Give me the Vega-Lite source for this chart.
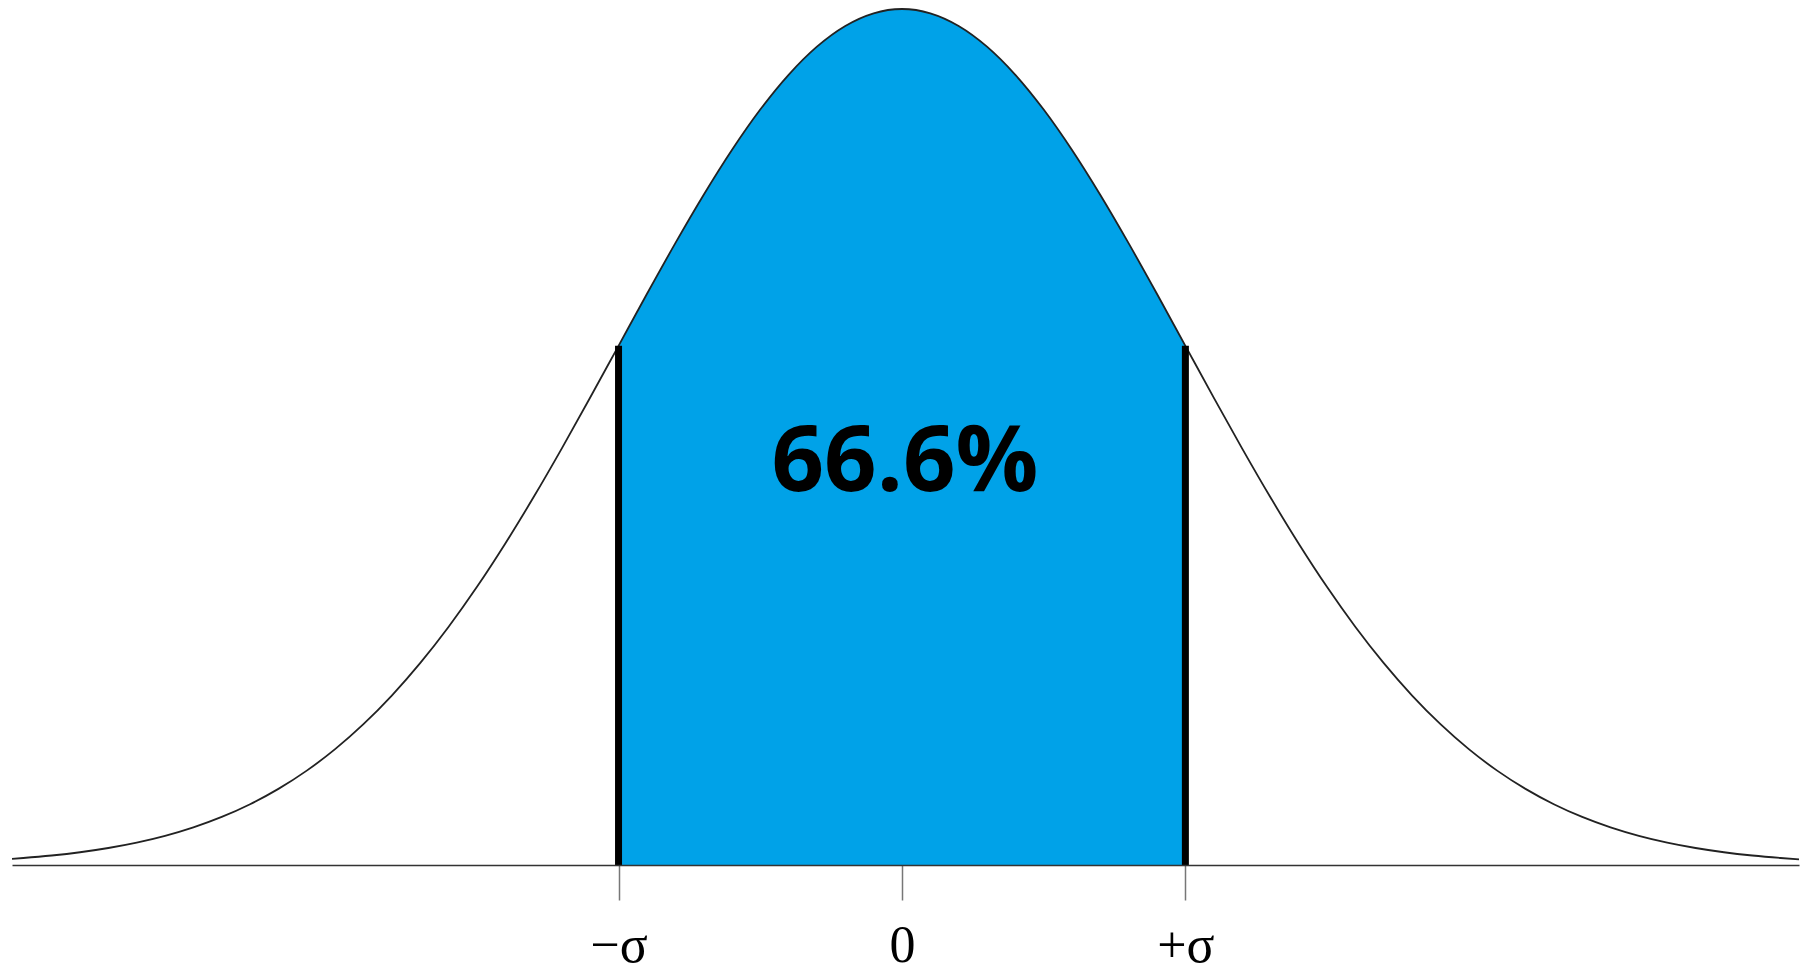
{
  "$schema": "https://vega.github.io/schema/vega-lite/v6.json",
  "width": 1787,
  "height": 856,
  "autosize": {"type": "none"},
  "padding": {"left": 12, "top": 9, "right": 8, "bottom": 101},
  "background": "white",
  "config": {"view": {"stroke": null}},
  "datasets": {
    "curve": [
      {"x": -3.14, "y": 0.00288}, {"x": -3.1, "y": 0.00327}, {"x": -3.0, "y": 0.00443},
      {"x": -2.9, "y": 0.00595}, {"x": -2.8, "y": 0.00792}, {"x": -2.7, "y": 0.01042},
      {"x": -2.6, "y": 0.01358}, {"x": -2.5, "y": 0.01753}, {"x": -2.4, "y": 0.02239},
      {"x": -2.3, "y": 0.02833}, {"x": -2.2, "y": 0.03547}, {"x": -2.1, "y": 0.04398},
      {"x": -2.0, "y": 0.05399}, {"x": -1.9, "y": 0.06562}, {"x": -1.8, "y": 0.07895},
      {"x": -1.7, "y": 0.09405}, {"x": -1.6, "y": 0.11092}, {"x": -1.5, "y": 0.12952},
      {"x": -1.4, "y": 0.14973}, {"x": -1.3, "y": 0.17137}, {"x": -1.2, "y": 0.19419},
      {"x": -1.1, "y": 0.21785}, {"x": -1.0, "y": 0.24197}, {"x": -0.9, "y": 0.26609},
      {"x": -0.8, "y": 0.28969}, {"x": -0.7, "y": 0.31225}, {"x": -0.6, "y": 0.33322},
      {"x": -0.5, "y": 0.35207}, {"x": -0.4, "y": 0.36827}, {"x": -0.3, "y": 0.38139},
      {"x": -0.2, "y": 0.39104}, {"x": -0.1, "y": 0.39695}, {"x": 0.0, "y": 0.39894},
      {"x": 0.1, "y": 0.39695}, {"x": 0.2, "y": 0.39104}, {"x": 0.3, "y": 0.38139},
      {"x": 0.4, "y": 0.36827}, {"x": 0.5, "y": 0.35207}, {"x": 0.6, "y": 0.33322},
      {"x": 0.7, "y": 0.31225}, {"x": 0.8, "y": 0.28969}, {"x": 0.9, "y": 0.26609},
      {"x": 1.0, "y": 0.24197}, {"x": 1.1, "y": 0.21785}, {"x": 1.2, "y": 0.19419},
      {"x": 1.3, "y": 0.17137}, {"x": 1.4, "y": 0.14973}, {"x": 1.5, "y": 0.12952},
      {"x": 1.6, "y": 0.11092}, {"x": 1.7, "y": 0.09405}, {"x": 1.8, "y": 0.07895},
      {"x": 1.9, "y": 0.06562}, {"x": 2.0, "y": 0.05399}, {"x": 2.1, "y": 0.04398},
      {"x": 2.2, "y": 0.03547}, {"x": 2.3, "y": 0.02833}, {"x": 2.4, "y": 0.02239},
      {"x": 2.5, "y": 0.01753}, {"x": 2.6, "y": 0.01358}, {"x": 2.7, "y": 0.01042},
      {"x": 2.8, "y": 0.00792}, {"x": 2.9, "y": 0.00595}, {"x": 3.0, "y": 0.00443},
      {"x": 3.1, "y": 0.00327}, {"x": 3.165, "y": 0.00266}
    ],
    "bounds": [
      {"x": -1.0, "y": 0.24197},
      {"x": 1.0, "y": 0.24197}
    ],
    "labels": [
      {"x": 0.0, "y": 0.1743, "text": "66.6%"}
    ]
  },
  "layer": [
    {
      "data": {"name": "curve"},
      "transform": [{"filter": "datum.x >= -1 && datum.x <= 1"}],
      "mark": {"type": "area", "color": "#00A2E8", "interpolate": "monotone"},
      "encoding": {
        "x": {
          "field": "x", "type": "quantitative",
          "scale": {"domain": [-3.14, 3.165], "nice": false, "zero": false},
          "axis": {
            "values": [-1, 0, 1],
            "labelExpr": "datum.value < 0 ? '−σ' : (datum.value > 0 ? '+σ' : '0')",
            "title": null,
            "grid": false,
            "zindex": 1,
            "domainColor": "#333333",
            "domainWidth": 1.5,
            "tickColor": "#777777",
            "tickWidth": 1.5,
            "tickSize": 35,
            "labelFont": "Liberation Serif",
            "labelFontSize": 52,
            "labelColor": "#000000",
            "labelBaseline": "alphabetic",
            "labelPadding": 61,
            "labelFlush": false,
            "labelOverlap": false
          }
        },
        "y": {
          "field": "y", "type": "quantitative",
          "scale": {"domain": [0, 0.39894], "nice": false, "zero": true},
          "axis": null
        }
      }
    },
    {
      "data": {"name": "curve"},
      "mark": {"type": "line", "color": "#222222", "strokeWidth": 1.8, "interpolate": "monotone"},
      "encoding": {
        "x": {"field": "x", "type": "quantitative"},
        "y": {"field": "y", "type": "quantitative"}
      }
    },
    {
      "data": {"name": "bounds"},
      "mark": {"type": "rule", "color": "#000000", "strokeWidth": 7},
      "encoding": {
        "x": {"field": "x", "type": "quantitative"},
        "y": {"field": "y", "type": "quantitative"},
        "y2": {"datum": 0}
      }
    },
    {
      "data": {"name": "labels"},
      "mark": {"type": "text", "font": "Open Sans", "fontWeight": "bold", "fontSize": 92, "color": "#000000", "align": "center", "baseline": "alphabetic", "dx": 3},
      "encoding": {
        "x": {"field": "x", "type": "quantitative"},
        "y": {"field": "y", "type": "quantitative"},
        "text": {"field": "text"}
      }
    }
  ]
}
